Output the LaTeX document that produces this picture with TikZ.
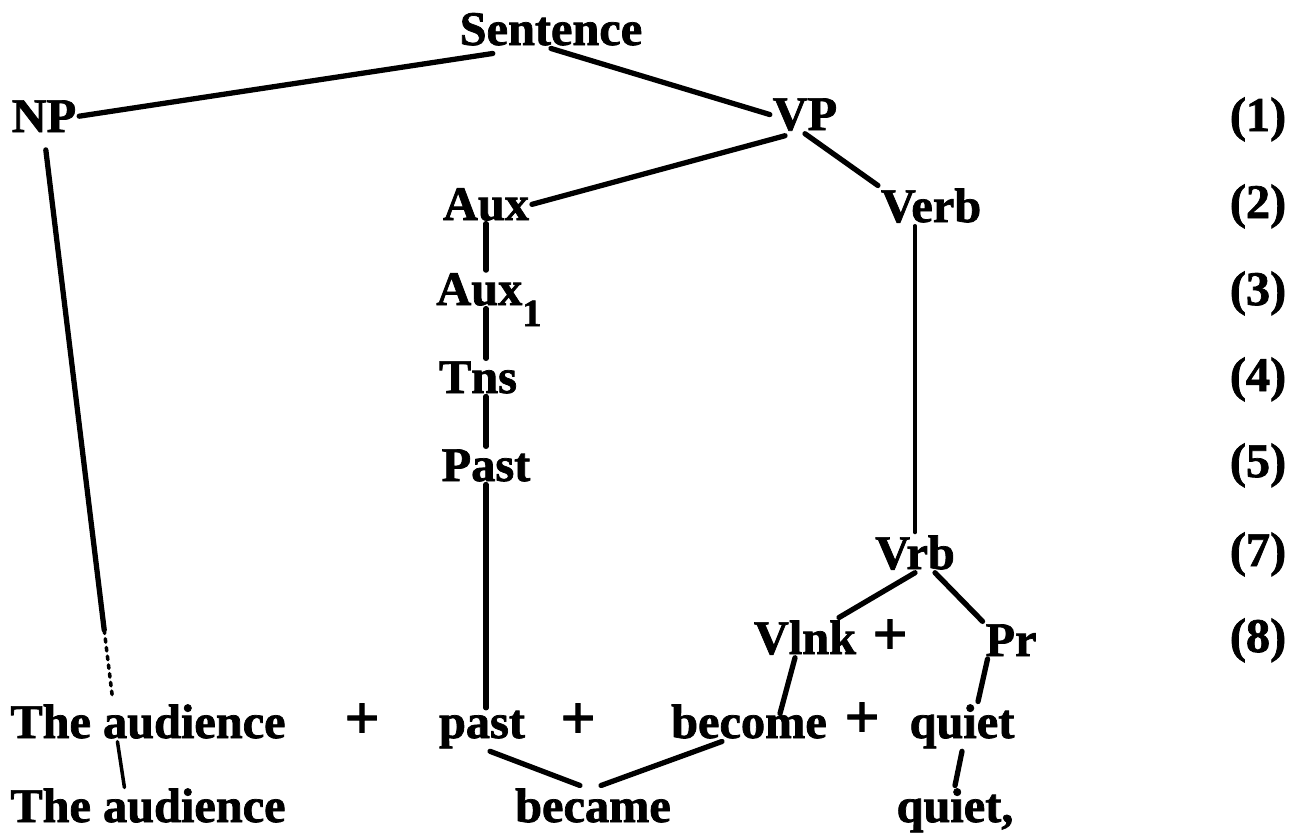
\documentclass[tikz,border=0pt]{standalone}
\usepackage{fontspec}
\setmainfont{Liberation Serif}[BoldFeatures={FakeBold=1.5}]
\usetikzlibrary{calc}

\begin{document}
\begin{tikzpicture}[x=0.02cm, y=-0.02cm,
        word/.style={anchor=base, inner sep=1.5pt, font=\fontsize{27.5}{33}\selectfont\bfseries},
        plus/.style={inner sep=0pt, font=\fontsize{35}{35}\selectfont\bfseries},
        branch/.style={line width=3pt, line cap=round},
        twig/.style={line width=2pt, line cap=round}]
        \useasboundingbox (0,0) rectangle (1290,833);

        % phrase structure
        \node[word] (sent) at (551,45) {Sentence};
        \node[word] (np) at (44,132) {NP};
        \node[word] (vp) at (805,130) {VP};
        \node[word] (aux) at (486,220) {Aux};
        \node[word] (verb) at (931,222) {Verb};
        \node[word] (aux1) at (489,305) {Aux\raisebox{-12pt}[0pt][0pt]{\fontsize{22}{22}\selectfont 1}};
        \node[word] (tns) at (478,393) {Tns};
        \node[word] (past) at (486,481) {Past};
        \node[word] (vrb) at (915,569) {Vrb};
        \node[word] (vlnk) at (805,654) {Vlnk};
        \node[plus] (plus4) at (890,637) {+};
        \node[word] (pr) at (1011,656) {Pr};

        % terminal string
        \node[word] (aud1) at (148,738) {The audience};
        \node[plus] (plus1) at (362,721) {+};
        \node[word] (pastw) at (482,738) {past};
        \node[plus] (plus2) at (578,721) {+};
        \node[word] (become) at (749,738) {become};
        \node[plus] (plus3) at (862,720) {+};
        \node[word] (quiet) at (962,738) {quiet};

        % after the transformation
        \node[word] (aud2) at (148,822) {The audience};
        \node[word] (became) at (593,822) {became};
        \node[word] (quietp) at (955,822) {quiet,};

        % rule numbers
        \node[word] (lbl1) at (1258,131) {(1)};
        \node[word] (lbl2) at (1258,218) {(2)};
        \node[word] (lbl3) at (1258,305) {(3)};
        \node[word] (lbl4) at (1258,391) {(4)};
        \node[word] (lbl5) at (1258,477) {(5)};
        \node[word] (lbl7) at (1258,566) {(7)};
        \node[word] (lbl8) at (1258,652) {(8)};

        \draw[branch] ([shift={(36,5)}]sent.south west) -- (np.east);
        \draw[branch] (sent.south) -- (vp.west);
        \draw[branch] ([shift={(-20,2)}]vp.south) -- (aux.east);
        \draw[branch] (vp.south) -- (verb.north west);

        % NP line fades out into dots
        \coordinate (audtop) at ([shift={(105,-4)}]aud1.north west);
        \coordinate (npcut) at ($(np.south)!0.88!(audtop)$);
        \draw[branch, shorten <=0.3cm] (np.south) -- (npcut);
        \draw[twig, dash pattern=on 2pt off 3pt] (npcut) -- (audtop);
        \draw[twig] ([shift={(110,0)}]aud1.south west) -- ([shift={(117,2)}]aud2.north west);

        \draw[branch] (aux.south) -- (aux.south |- aux1.north);
        \draw[branch] (aux.south |- aux1.south) -- (aux.south |- tns.north);
        \draw[branch] (aux.south |- tns.south) -- (aux.south |- past.north);
        \draw[branch] (aux.south |- past.south) -- (aux.south |- pastw.north);

        \draw[twig] (vrb.north) -- (vrb.north |- verb.south);
        \draw[branch] (vrb.south) -- ([shift={(-20,0)}]vlnk.north east);
        \draw[branch] ([shift={(20,0)}]vrb.south) -- (pr.north west);
        \draw[branch] ([shift={(-10,0)}]vlnk.south) -- ([shift={(31,12)}]become.north);
        \draw[branch] ([shift={(5,0)}]pr.south west) -- ([shift={(16,0)}]quiet.north);
        \draw[branch] (quiet.south) -- (quietp.north);

        \draw[branch] ([shift={(8,0)}]pastw.south) -- ([shift={(-13,0)}]became.north);
        \draw[branch] ([shift={(-27,0)}]become.south) -- ([shift={(8,0)}]became.north);
    \end{tikzpicture}
\end{document}
